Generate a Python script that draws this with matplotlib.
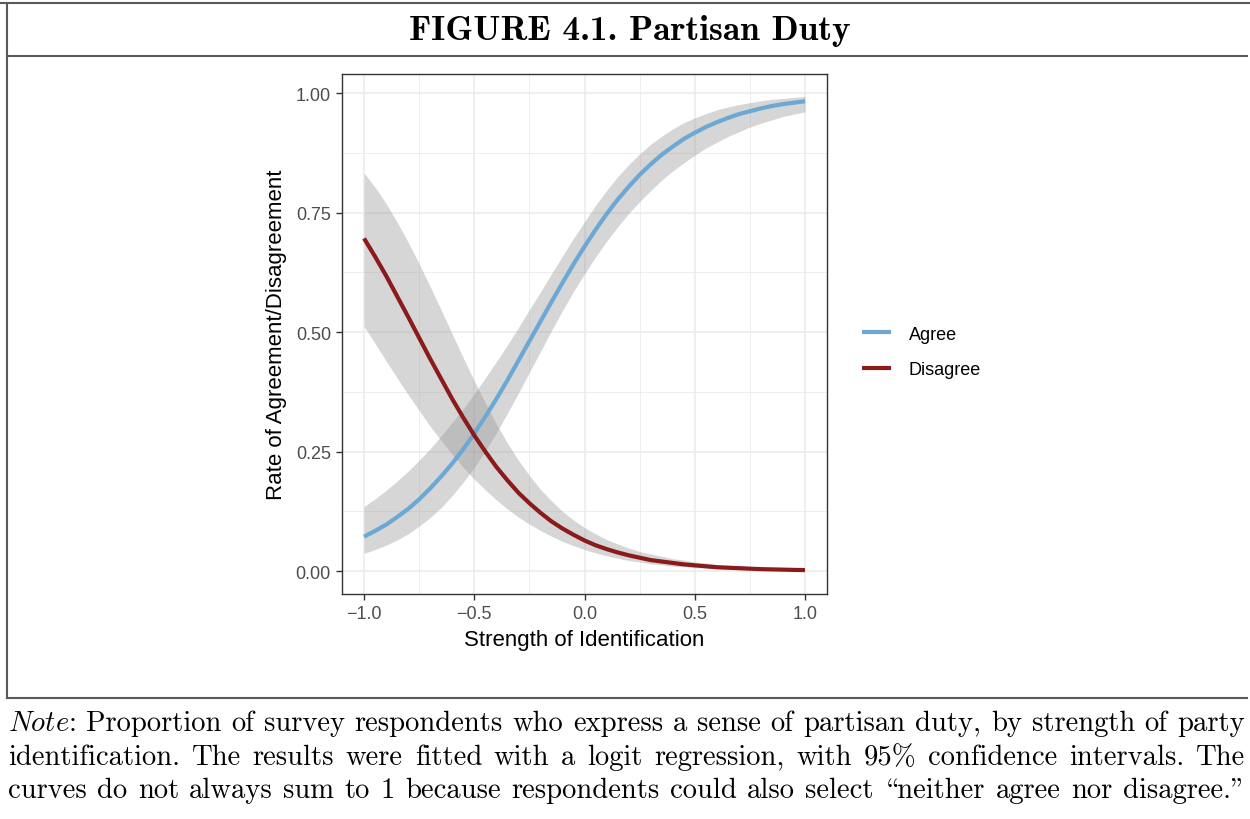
import matplotlib
matplotlib.use("Agg")
import matplotlib.pyplot as plt
from matplotlib.lines import Line2D
from matplotlib.ticker import MultipleLocator

# strength of identification (x) and fitted rates
strength = [-1.00, -0.95, -0.90, -0.85, -0.80, -0.75, -0.70, -0.65, -0.60, -0.55,
            -0.50, -0.45, -0.40, -0.35, -0.30, -0.25, -0.20, -0.15, -0.10, -0.05,
            0.00, 0.05, 0.10, 0.15, 0.20, 0.25, 0.30, 0.35, 0.40, 0.45,
            0.50, 0.55, 0.60, 0.65, 0.70, 0.75, 0.80, 0.85, 0.90, 0.95, 1.00]
agree = [0.072, 0.084, 0.097, 0.113, 0.130, 0.150, 0.173, 0.198, 0.225, 0.255,
         0.288, 0.323, 0.360, 0.399, 0.440, 0.481, 0.522, 0.563, 0.603, 0.642,
         0.679, 0.714, 0.747, 0.777, 0.804, 0.829, 0.851, 0.871, 0.888, 0.904,
         0.917, 0.929, 0.939, 0.948, 0.956, 0.962, 0.968, 0.973, 0.977, 0.980, 0.983]
agree_lo = [0.037, 0.045, 0.054, 0.065, 0.078, 0.094, 0.112, 0.133, 0.158, 0.186,
            0.217, 0.251, 0.289, 0.330, 0.372, 0.416, 0.459, 0.503, 0.545, 0.585,
            0.622, 0.657, 0.690, 0.720, 0.748, 0.773, 0.796, 0.818, 0.837, 0.854,
            0.870, 0.885, 0.897, 0.909, 0.919, 0.929, 0.937, 0.944, 0.951, 0.956, 0.961]
agree_hi = [0.135, 0.151, 0.169, 0.188, 0.209, 0.232, 0.256, 0.283, 0.311, 0.340,
            0.371, 0.404, 0.438, 0.473, 0.509, 0.547, 0.584, 0.622, 0.659, 0.696,
            0.731, 0.765, 0.796, 0.825, 0.850, 0.873, 0.893, 0.910, 0.925, 0.938,
            0.948, 0.957, 0.965, 0.971, 0.976, 0.980, 0.984, 0.987, 0.989, 0.991, 0.993]
disagree = [0.696, 0.658, 0.618, 0.575, 0.532, 0.488, 0.444, 0.402, 0.360, 0.321,
            0.284, 0.250, 0.218, 0.190, 0.164, 0.142, 0.122, 0.104, 0.089, 0.076,
            0.064, 0.054, 0.046, 0.039, 0.033, 0.028, 0.023, 0.020, 0.017, 0.014,
            0.012, 0.010, 0.008, 0.007, 0.006, 0.005, 0.004, 0.0035, 0.003, 0.0024, 0.002]
disagree_lo = [0.512, 0.476, 0.440, 0.404, 0.369, 0.336, 0.303, 0.273, 0.244, 0.217,
               0.192, 0.170, 0.149, 0.130, 0.113, 0.098, 0.085, 0.073, 0.062, 0.053,
               0.045, 0.038, 0.032, 0.027, 0.022, 0.019, 0.015, 0.013, 0.010, 0.009,
               0.007, 0.006, 0.005, 0.004, 0.003, 0.0026, 0.002, 0.0017, 0.0014, 0.0012, 0.0009]
disagree_hi = [0.833, 0.803, 0.769, 0.730, 0.688, 0.643, 0.595, 0.546, 0.496, 0.446,
               0.398, 0.352, 0.308, 0.268, 0.232, 0.200, 0.171, 0.147, 0.125, 0.107,
               0.091, 0.078, 0.066, 0.057, 0.048, 0.041, 0.036, 0.031, 0.026, 0.023,
               0.019, 0.017, 0.014, 0.012, 0.011, 0.009, 0.008, 0.007, 0.006, 0.005, 0.004]

xticks = [-1.0, -0.5, 0.0, 0.5, 1.0]
xtick_labels = ["\u22121.0", "\u22120.5", "0.0", "0.5", "1.0"]
yticks = [0.0, 0.25, 0.5, 0.75, 1.0]
ytick_labels = ["0.00", "0.25", "0.50", "0.75", "1.00"]

title = "FIGURE 4.1. Partisan Duty"
note_lines = [
    "Note: Proportion of survey respondents who express a sense of partisan duty, by strength of party",
    "identification. The results were fitted with a logit regression, with 95% confidence intervals. The",
    "curves do not always sum to 1 because respondents could also select \u201cneither agree nor disagree.\u201d",
]

W, H = 1250, 820
fig = plt.figure(figsize=(W / 100, H / 100), dpi=100)
plt.rcParams['font.family'] = ['Liberation Sans', 'DejaVu Sans']
plt.rcParams['mathtext.fontset'] = 'cm'

ax = fig.add_axes([342 / W, 1 - 595 / H, 485 / W, 520 / H])
ax.fill_between(strength, agree_lo, agree_hi, color="#999999", alpha=0.4, lw=0)
ax.fill_between(strength, disagree_lo, disagree_hi, color="#999999", alpha=0.4, lw=0)
ax.plot(strength, agree, color="#6BA8D3", lw=3, label="Agree", solid_capstyle="butt")
ax.plot(strength, disagree, color="#8B1A1A", lw=3, label="Disagree", solid_capstyle="butt")

ax.set_xlim(-1.1, 1.1)
ax.set_ylim(-0.048, 1.04)
ax.set_xticks(xticks)
ax.set_xticklabels(xtick_labels)
ax.set_yticks(yticks)
ax.set_yticklabels(ytick_labels)
ax.xaxis.set_minor_locator(MultipleLocator(0.25))
ax.yaxis.set_minor_locator(MultipleLocator(0.125))
ax.grid(which="major", color="#EBEBEB", lw=1.1)
ax.grid(which="minor", color="#EBEBEB", lw=0.6)
ax.set_axisbelow(True)
ax.tick_params(which="major", length=4, width=1, color="#333333",
               labelsize=13, labelcolor="#4D4D4D", pad=4)
ax.tick_params(which="minor", length=0)
for s in ax.spines.values():
    s.set_color("#333333")
    s.set_linewidth(1)
ax.set_xlabel("Strength of Identification", fontsize=16, labelpad=5)
ax.set_ylabel("Rate of Agreement/Disagreement", fontsize=16, labelpad=6)

ax.legend(loc="center left", bbox_to_anchor=(862 / W, 1 - 353 / H),
          bbox_transform=fig.transFigure, frameon=False, fontsize=13,
          handlelength=1.6, handletextpad=1.0, labelspacing=1.05,
          borderpad=0, borderaxespad=0)

# frame lines of the figure box
lc = "#5A5A5A"
def hline(ypx, x0=7, x1=1247):
    fig.add_artist(Line2D([x0 / W, x1 / W], [1 - ypx / H, 1 - ypx / H],
                          transform=fig.transFigure, color=lc, lw=1.5))
hline(4, 0, 1250)
hline(57)
hline(699)
fig.add_artist(Line2D([7 / W, 7 / W], [1 - 4 / H, 1 - 699 / H],
                      transform=fig.transFigure, color=lc, lw=1.5))

fig.text(630 / W, 1 - 31 / H, title, family=["cmb10", "DejaVu Serif"],
         fontsize=25.5, ha="center", va="center")

# justified note text (cmr10 keeps the TeX layout: "\" is the opening quote)
fig.canvas.draw()
r = fig.canvas.get_renderer()
x_left, x_right = 8, 1245
baselines = [731, 765, 798]
fs = 20.6
for i, line in enumerate(note_lines):
    words = line.split(" ")
    arts = []
    for j, w in enumerate(words):
        if i == 0 and j == 0:
            s = r"$\mathit{Note}$:"
        else:
            s = w.replace("\u201c", "\\").replace("\u201d", '"')
        arts.append(fig.text(0, 1 - baselines[i] / H, s,
                             family=["cmr10", "DejaVu Serif"], fontsize=fs,
                             ha="left", va="baseline"))
    widths = [a.get_window_extent(r).width for a in arts]
    gap = (x_right - x_left - sum(widths)) / (len(arts) - 1)
    x = x_left
    for a, wd in zip(arts, widths):
        a.set_x(x / W)
        x += wd + gap

fig.savefig("out.png", dpi=100)
